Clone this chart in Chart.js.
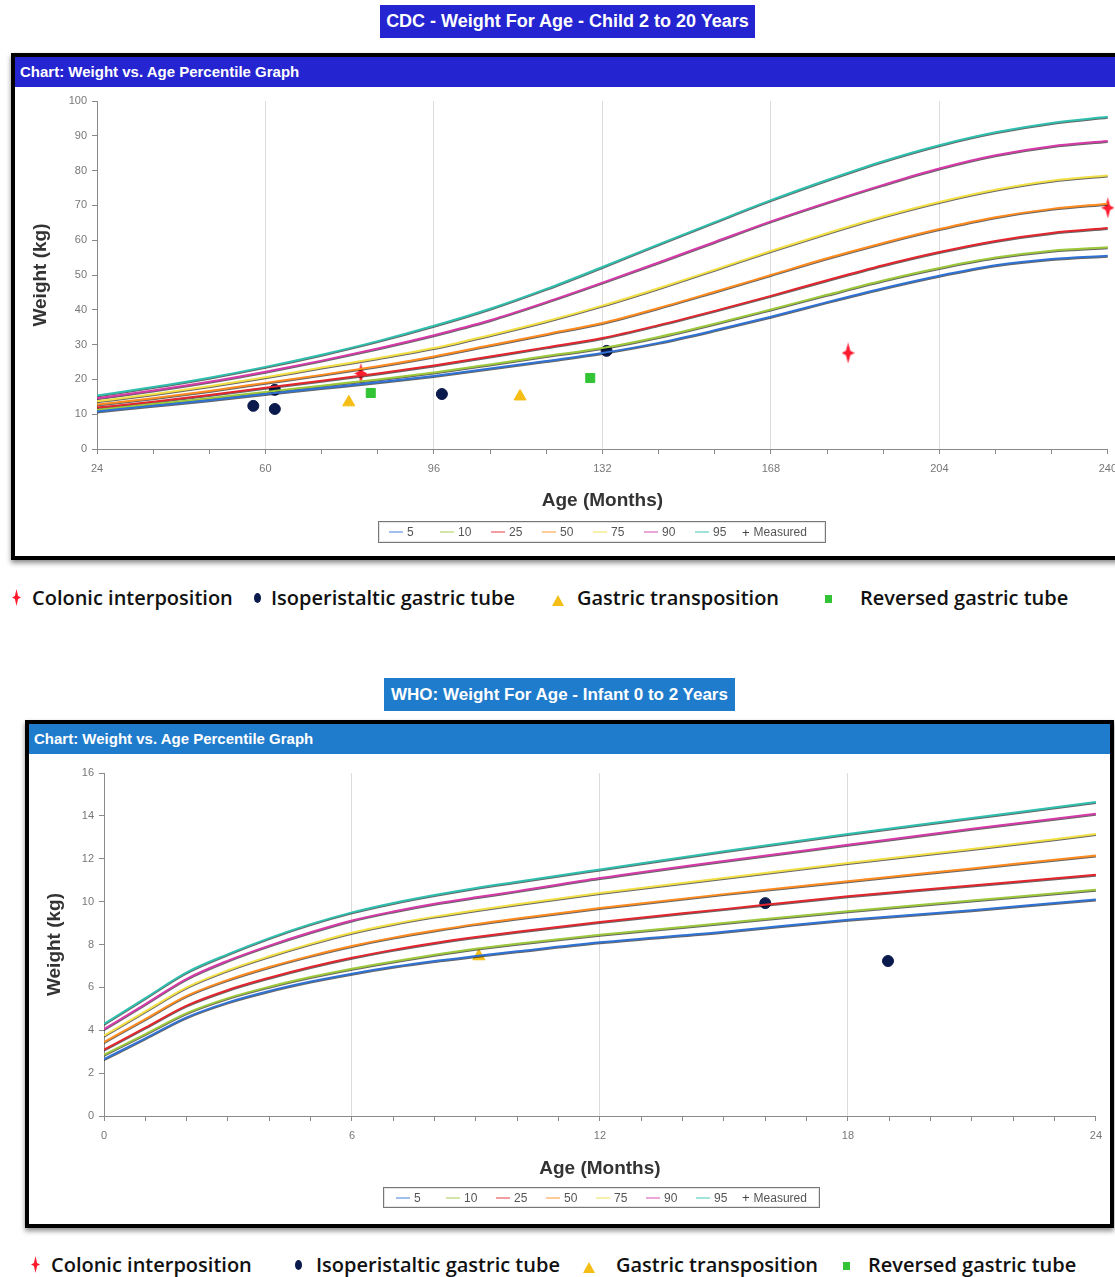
<!DOCTYPE html>
<html>
<head>
<meta charset="utf-8">
<script src="https://cdn.jsdelivr.net/npm/chart.js@4.4.1/dist/chart.umd.min.js"></script>
<style>
body { margin:0; width:1115px; height:1277px; background:#fff; position:relative; overflow:hidden; font-family:"Liberation Sans", Arial, sans-serif; }
.title { position:absolute; color:#fff; font-weight:bold; font-size:18px; text-align:center; line-height:33px; height:33px; white-space:nowrap; }
.panel { position:absolute; border:4px solid #000; box-shadow:0 3px 5px rgba(0,0,0,.45); background:#fff; }
.head { height:30px; line-height:30px; color:#fff; font-weight:bold; font-size:15px; padding-left:5px; white-space:nowrap; }
canvas { display:block; }
.plegend { position:absolute; border:1px solid #777; box-shadow:inset 0 0 0 1px #e4e4e4; font-size:12px; color:#555; white-space:nowrap; }
.plegend span.item { position:absolute; top:0; display:flex; align-items:center; height:100%; }
.plegend i { display:inline-block; width:14px; height:2px; margin-right:4px; }
.grp { position:absolute; font-family:"Open Sans", sans-serif; font-weight:600; font-size:20px; color:#111; white-space:nowrap; line-height:24px; }
.mk { position:absolute; }
</style>
</head>
<body>

<div class="title" style="left:380px; top:5px; width:375px; background:#2424d0;">CDC - Weight For Age - Child 2 to 20 Years</div>
<div class="panel" style="left:11px; top:53px; width:1110px; height:499px;">
  <div class="head" style="background:#2424d0;">Chart: Weight vs. Age Percentile Graph</div>
  <canvas id="cdcChart" width="1110" height="469"></canvas>
</div>
<div class="plegend" id="cdcLegend" style="left:378px; top:521px; width:446px; height:20px;"></div>
<div id="cdcGroups"></div>

<div class="title" style="left:384px; top:678px; width:351px; background:#1f7ccc; font-size:17px;">WHO: Weight For Age - Infant 0 to 2 Years</div>
<div class="panel" style="left:25px; top:720px; width:1081px; height:500px;">
  <div class="head" style="background:#1f7ccc;">Chart: Weight vs. Age Percentile Graph</div>
  <canvas id="whoChart" width="1081" height="470"></canvas>
</div>
<div class="plegend" id="whoLegend" style="left:383px; top:1187px; width:435px; height:19px;"></div>
<div id="whoGroups"></div>

<script>
// percentile curves
var pctLabels = ['5', '10', '25', '50', '75', '90', '95'];
var pctColors = ['#2f72d6', '#9cc83a', '#e3262d', '#ff8b1f', '#f2df45', '#d63aa9', '#2fbfae'];

// CDC 2-20 years (months / kg)
var cdcMonths = [24, 36, 48, 60, 72, 84, 96, 108, 120, 132, 144, 156, 168, 180, 192, 204, 216, 228, 240];
var cdcP5  = [10.8, 12.4, 14.0, 15.8, 17.5, 19.2, 21.0, 23.1, 25.3, 27.6, 30.5, 34.1, 38.0, 42.2, 46.2, 49.8, 52.8, 54.6, 55.5];
var cdcP10 = [11.2, 12.9, 14.6, 16.4, 18.2, 20.0, 22.0, 24.3, 26.7, 29.0, 32.2, 36.0, 40.1, 44.3, 48.4, 52.0, 55.0, 57.0, 58.0];
var cdcP25 = [11.9, 13.6, 15.5, 17.6, 19.6, 21.7, 24.0, 26.6, 29.2, 31.9, 35.6, 39.7, 44.0, 48.5, 52.8, 56.6, 59.8, 62.1, 63.5];
var cdcP50 = [12.8, 14.6, 16.7, 19.0, 21.3, 23.8, 26.6, 29.8, 33.0, 36.2, 40.5, 45.2, 50.0, 54.8, 59.2, 63.2, 66.6, 69.0, 70.5];
var cdcP75 = [13.7, 15.7, 18.0, 20.6, 23.4, 26.1, 29.0, 32.7, 36.7, 41.2, 46.2, 51.5, 56.9, 62.0, 66.8, 71.0, 74.5, 77.1, 78.6];
var cdcP90 = [14.6, 16.8, 19.3, 22.2, 25.4, 28.9, 32.7, 37.0, 42.2, 47.8, 53.6, 59.5, 65.4, 70.8, 75.9, 80.6, 84.4, 87.0, 88.5];
var cdcP95 = [15.4, 17.8, 20.5, 23.6, 27.1, 31.0, 35.4, 40.3, 46.0, 52.3, 58.8, 65.2, 71.5, 77.3, 82.7, 87.3, 91.0, 93.7, 95.5];

// CDC measured patients
var cdcColonicX  = [80.4, 184.5, 240];
var cdcColonicY  = [21.7, 27.6, 69.3];
var cdcIsoX      = [57.4, 62.0, 62.0, 97.7, 132.9];
var cdcIsoY      = [12.4, 17.0, 11.5, 15.8, 28.2];
var cdcGastricX  = [77.8, 114.4];
var cdcGastricY  = [13.4, 15.1];
var cdcReversedX = [82.5, 129.4];
var cdcReversedY = [16.1, 20.4];

// WHO 0-2 years
var whoMonths = [0, 1, 2, 3, 4, 5, 6, 7, 8, 9, 10, 12, 15, 18, 21, 24];
var whoP5  = [2.65, 3.62, 4.6, 5.3, 5.83, 6.27, 6.64, 6.96, 7.23, 7.46, 7.68, 8.1, 8.6, 9.15, 9.6, 10.1];
var whoP10 = [2.85, 3.82, 4.8, 5.5, 6.03, 6.48, 6.87, 7.21, 7.52, 7.8, 8.04, 8.45, 9.0, 9.55, 10.05, 10.55];
var whoP25 = [3.1, 4.12, 5.15, 5.88, 6.45, 6.95, 7.38, 7.75, 8.07, 8.35, 8.6, 9.05, 9.65, 10.25, 10.75, 11.25];
var whoP50 = [3.45, 4.52, 5.6, 6.35, 6.95, 7.47, 7.93, 8.32, 8.65, 8.95, 9.21, 9.7, 10.35, 10.95, 11.55, 12.15];
var whoP75 = [3.75, 4.88, 6.0, 6.8, 7.45, 8.03, 8.55, 8.96, 9.3, 9.6, 9.88, 10.4, 11.1, 11.8, 12.45, 13.15];
var whoP90 = [4.05, 5.22, 6.4, 7.25, 7.95, 8.57, 9.12, 9.54, 9.9, 10.2, 10.49, 11.1, 11.9, 12.65, 13.4, 14.1];
var whoP95 = [4.3, 5.5, 6.7, 7.55, 8.3, 8.95, 9.5, 9.94, 10.31, 10.64, 10.93, 11.5, 12.35, 13.15, 13.9, 14.65];

// WHO measured patients
var whoIsoX     = [16.0, 18.97];
var whoIsoY     = [9.93, 7.23];
var whoGastricX = [9.07];
var whoGastricY = [7.45];

var groupNames = ['Colonic interposition', 'Isoperistaltic gastric tube', 'Gastric transposition', 'Reversed gastric tube'];
var red = '#ff1a2e', navy = '#0b1a4c', gold = '#f4be16', green = '#33c436';

function makeStar(w, h, k, color) {
    var c = document.createElement('canvas');
    c.width = w; c.height = h;
    var g = c.getContext('2d');
    var cx = w / 2, cy = h / 2;
    g.fillStyle = color;
    g.beginPath();
    g.moveTo(cx, 0);
    g.lineTo(cx + k, cy - k);
    g.lineTo(w, cy);
    g.lineTo(cx + k, cy + k);
    g.lineTo(cx, h);
    g.lineTo(cx - k, cy + k);
    g.lineTo(0, cy);
    g.lineTo(cx - k, cy - k);
    g.closePath();
    g.fill();
    return c;
}
var starImg = makeStar(13, 21, 2.2, red);

function pctSets(months, rows) {
    return rows.map(function (vals, i) {
        return {
            label: pctLabels[i],
            data: months.map(function (m, j) { return { x: m, y: vals[j] }; }),
            borderColor: pctColors[i],
            borderWidth: 2,
            pointRadius: 0,
            cubicInterpolationMode: 'monotone',
            fill: false,
            isPct: true
        };
    });
}

function markSet(label, xs, ys, style, color, radius) {
    return {
        type: 'scatter',
        label: label,
        data: xs.map(function (x, i) { return { x: x, y: ys[i] }; }),
        pointStyle: style,
        backgroundColor: color,
        borderColor: color,
        borderWidth: 1,
        pointRadius: radius,
        pointHoverRadius: radius,
        clip: false
    };
}

// dark edge under the percentile lines
var lineShadow = {
    id: 'lineShadow',
    beforeDatasetDraw: function (chart, args) {
        if (!chart.data.datasets[args.index].isPct) return;
        var ctx = chart.ctx;
        ctx.save();
        ctx.shadowColor = 'rgba(0,0,0,0.6)';
        ctx.shadowOffsetY = 1;
        ctx.shadowBlur = 0;
    },
    afterDatasetDraw: function (chart, args) {
        if (!chart.data.datasets[args.index].isPct) return;
        chart.ctx.restore();
    }
};

function makeChart(id, cfg) {
    return new Chart(document.getElementById(id), {
        type: 'line',
        data: { datasets: cfg.datasets },
        options: {
            responsive: false,
            animation: false,
            layout: { padding: cfg.padding },
            plugins: { legend: { display: false }, tooltip: { enabled: false } },
            scales: {
                x: {
                    type: 'linear',
                    min: cfg.xMin, max: cfg.xMax,
                    ticks: {
                        stepSize: cfg.xMinor, autoSkip: false, maxRotation: 0,
                        color: '#777', font: { size: 11 }, padding: 8,
                        callback: function (v) { return (v - cfg.xMin) % cfg.xMajor === 0 ? v : ''; }
                    },
                    grid: {
                        color: function (c) {
                            var v = c.tick ? c.tick.value : null;
                            return (v > cfg.xMin && v < cfg.xMax && (v - cfg.xMin) % cfg.xMajor === 0) ? '#dcdcdc' : 'rgba(0,0,0,0)';
                        },
                        tickColor: '#8a8a8a', tickLength: 5
                    },
                    border: { color: '#8a8a8a' },
                    title: { display: true, text: 'Age (Months)', color: '#333', font: { size: 19, weight: 'bold' }, padding: { top: 4, bottom: 4 } },
                    afterFit: function (s) { s.height = cfg.xHeight; }
                },
                y: {
                    min: 0, max: cfg.yMax,
                    ticks: { stepSize: cfg.yStep, color: '#777', font: { size: 11 }, padding: 5 },
                    grid: { color: 'rgba(0,0,0,0)', tickColor: '#8a8a8a', tickLength: 5 },
                    border: { color: '#8a8a8a' },
                    title: { display: true, text: 'Weight (kg)', color: '#333', font: { size: 19, weight: 'bold' }, padding: { top: 4, bottom: 4 } },
                    afterFit: function (s) { s.width = cfg.yWidth; }
                }
            }
        },
        plugins: [lineShadow]
    });
}

makeChart('cdcChart', {
    datasets: pctSets(cdcMonths, [cdcP5, cdcP10, cdcP25, cdcP50, cdcP75, cdcP90, cdcP95]).concat([
        markSet(groupNames[1], cdcIsoX, cdcIsoY, 'circle', navy, 5.5),
        markSet(groupNames[2], cdcGastricX, cdcGastricY, 'triangle', gold, 7),
        markSet(groupNames[3], cdcReversedX, cdcReversedY, 'rect', green, 6.4),
        markSet(groupNames[0], cdcColonicX, cdcColonicY, starImg, red, 8)
    ]),
    padding: { left: 10, right: 10, top: 14, bottom: 40 },
    xMin: 24, xMax: 240, xMinor: 12, xMajor: 36, xHeight: 67,
    yMax: 100, yStep: 10, yWidth: 72
});

makeChart('whoChart', {
    datasets: pctSets(whoMonths, [whoP5, whoP10, whoP25, whoP50, whoP75, whoP90, whoP95]).concat([
        markSet(groupNames[1], whoIsoX, whoIsoY, 'circle', navy, 5.5),
        markSet(groupNames[2], whoGastricX, whoGastricY, 'triangle', gold, 7)
    ]),
    padding: { left: 10, right: 14, top: 19, bottom: 40 },
    xMin: 0, xMax: 24, xMinor: 1, xMajor: 6, xHeight: 68,
    yMax: 16, yStep: 2, yWidth: 65
});

// percentile legend boxes
function buildLegend(id, firstLeft, step) {
    var box = document.getElementById(id);
    pctLabels.forEach(function (lab, i) {
        var s = document.createElement('span');
        s.className = 'item';
        s.style.left = (firstLeft + step * i) + 'px';
        s.innerHTML = '<i style="background:' + pctColors[i] + ';opacity:.45"></i>' + lab;
        box.appendChild(s);
    });
    var m = document.createElement('span');
    m.className = 'item';
    m.style.left = (firstLeft + step * 7 - 4) + 'px';
    m.innerHTML = '<b style="font-weight:normal;color:#444;margin-right:4px;font-size:13px">+</b>Measured';
    box.appendChild(m);
}
buildLegend('cdcLegend', 10, 51);
buildLegend('whoLegend', 12, 50);

// group legends under each panel
function buildGroups(id, top, pos) {
    var box = document.getElementById(id);
    var html = '';
    html += '<span class="mk" id="' + id + 'Star" style="left:' + pos[0] + 'px;top:' + (top + 3) + 'px"></span>';
    html += '<span class="mk" style="left:' + pos[2] + 'px;top:' + (top + 7) + 'px;width:7px;height:10px;border-radius:50%;background:' + navy + '"></span>';
    html += '<span class="mk" style="left:' + pos[4] + 'px;top:' + (top + 9) + 'px;width:0;height:0;border-left:6px solid transparent;border-right:6px solid transparent;border-bottom:11px solid ' + gold + '"></span>';
    html += '<span class="mk" style="left:' + pos[6] + 'px;top:' + (top + 9) + 'px;width:7px;height:8px;background:' + green + '"></span>';
    for (var i = 0; i < 4; i++) {
        html += '<span class="grp" style="left:' + pos[2 * i + 1] + 'px;top:' + top + 'px">' + groupNames[i] + '</span>';
    }
    box.innerHTML = html;
    document.getElementById(id + 'Star').appendChild(makeStar(9, 17, 1.6, red));
}
buildGroups('cdcGroups', 586, [12, 32, 254, 271, 552, 577, 825, 860]);
buildGroups('whoGroups', 1253, [31, 51, 295, 316, 583, 616, 843, 868]);
</script>
</body>
</html>
